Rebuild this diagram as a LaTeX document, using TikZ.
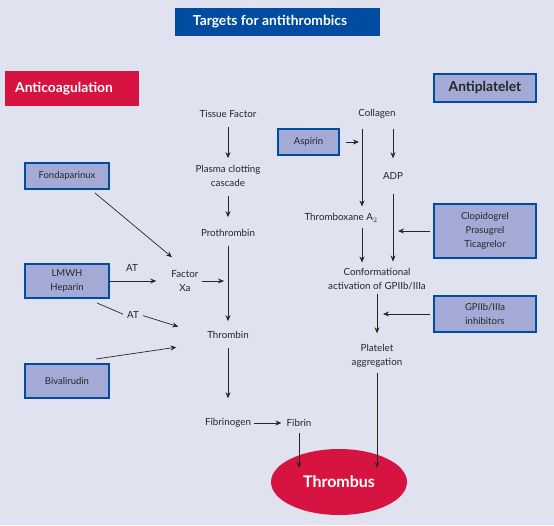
\documentclass[tikz,border=0pt]{standalone}
\usepackage{fontspec}
\setmainfont{Lato}
\usetikzlibrary{arrows.meta,positioning,shapes.geometric,calc}
\definecolor{pagebg}{RGB}{224,226,240}
\definecolor{titleblue}{RGB}{0,76,160}
\definecolor{clotred}{RGB}{215,20,65}
\definecolor{drugfill}{RGB}{164,170,214}

\begin{document}
\begin{tikzpicture}[x=1pt, y=1pt,
  lbl/.style={font=\fontsize{9.8}{14}\selectfont, align=center, inner sep=2pt, text=black!85},
  drug/.style={rectangle, draw=titleblue, line width=2pt, fill=drugfill, minimum width=#1,
               align=center, font=\fontsize{9.5}{14}\selectfont, text=black!85, inner sep=2pt},
  head/.style={rectangle, fill=#1, text=white, align=center, font=\fontsize{13.8}{16}\selectfont\bfseries},
  flow/.style={-{Stealth[length=6pt,width=5pt,inset=2pt]}, line width=0.7pt, black!85,
               shorten <=7pt, shorten >=5pt},
  plain/.style={line width=0.7pt, black!85}
]
\fill[pagebg] (0,0) rectangle (554,-525);
\useasboundingbox (0,0) rectangle (554,-525);

% Headings
\node[head=titleblue, minimum width=205pt, minimum height=28pt] (title) at (277.5,-22) {Targets for antithrombics\hspace*{15pt}};
\node[head=clotred, minimum width=134pt, minimum height=35pt] (anticoag) at (72,-88.5) {Anticoagulation\hspace*{16pt}};
\node[drug=102pt, minimum height=28pt, font=\fontsize{13.8}{16}\selectfont\bfseries] (antiplat) at (485,-88) {Antiplatelet};

% Coagulation cascade
\node[lbl] (tf)  at (228,-114) {Tissue Factor};
\node[lbl] (pcc) at (228,-176) {Plasma clotting\\cascade};
\node[lbl] (pro) at (228,-233) {Prothrombin};
\node[lbl] (fxa) at (185,-281) {Factor\\Xa};
\node[lbl] (thb) at (228,-335) {Thrombin};
\node[lbl] (fbg) at (228,-423) {Fibrinogen};
\node[lbl] (fib) at (299,-423) {Fibrin};

% Anticoagulants
\node[drug=84pt, minimum height=26pt] (fon) at (67,-176) {Fondaparinux};
\node[drug=84pt, minimum height=34pt] (lmw) at (67,-281) {LMWH\\Heparin};
\node[drug=84pt, minimum height=34pt] (biv) at (67,-381) {Bivalirudin};
\node[lbl] (at1) at (132,-268) {AT};
\node[lbl] (at2) at (133,-315) {AT};

% Platelet pathway
\node[lbl] (col)  at (377,-114) {Collagen};
\node[lbl] (adp)  at (393,-176) {ADP};
\node[lbl] (txa)  at (341,-218) {Thromboxane A$_2$};
\node[lbl] (conf) at (377,-279.5) {Conformational\\activation of GPIIb/IIIa};
\node[lbl] (plt)  at (377,-356) {Platelet\\aggregation};

% Antiplatelet drugs
\node[drug=61pt, minimum height=26pt] (asp) at (308.5,-142) {Aspirin};
\node[drug=102pt, minimum height=54pt] (clop) at (485,-231) {Clopidogrel\\Prasugrel\\Ticagrelor};
\node[drug=102pt, minimum height=36pt] (gp) at (485,-314) {GPIIb/IIIa\\inhibitors};

% Thrombus
\node[ellipse, fill=clotred, text=white, minimum width=136pt, minimum height=66pt,
      font=\fontsize{16}{18}\selectfont\bfseries] (thr) at (339,-482) {Thrombus};

% Cascade arrows
\draw[flow] (tf) -- (pcc);
\draw[flow, shorten >=10pt] (pcc) -- (pro);
\draw[flow, shorten >=8pt] (pro) -- (thb);
\draw[flow, shorten >=18pt] (thb) -- (fbg);
\draw[flow, shorten <=1pt, shorten >=3pt] (fbg) -- (fib);
\draw[flow, shorten <=4pt, shorten >=14pt] (fib) -- (fib |- thr.center);
\draw[flow, shorten <=1pt, shorten >=4pt] (fxa.east) -- (fxa.east -| pro);

% Anticoagulant arrows
\draw[flow, shorten <=0pt, shorten >=0pt] ([xshift=28pt,yshift=-3pt]fon.south) -- ([xshift=-13pt,yshift=11pt]fxa.north);
\draw[flow, shorten <=0pt, shorten >=13pt] (lmw.east) -- (fxa.west);
\draw[plain, shorten >=2pt] ([xshift=-13pt,yshift=-4pt]lmw.south east) -- (at2.west);
\draw[flow, shorten <=2pt, shorten >=28pt] (at2.east) -- (thb.west);
\draw[flow, shorten <=0pt, shorten >=29pt] ([xshift=29pt,yshift=4pt]biv.north) -- ([yshift=-8pt]thb.west);

% Platelet arrows
\coordinate (cl) at ([xshift=-15pt]col.south);
\draw[flow, shorten <=8pt, shorten >=5pt] (cl) -- (cl |- txa.north);
\draw[flow, shorten <=8pt, shorten >=12pt] (col.south -| adp) -- (adp);
\draw[flow, shorten <=3pt, shorten >=3pt] ([xshift=3pt]asp.east) -- (asp.east -| cl);
\draw[flow, shorten <=12pt, shorten >=5pt] (adp) -- (adp |- conf.north);
\draw[flow, shorten <=3pt, shorten >=4pt] (cl |- txa.south) -- (cl |- conf.north);
\draw[flow, shorten <=3pt, shorten >=5pt] (clop.west) -- (clop.west -| adp);
\draw[flow, shorten <=1pt, shorten >=9pt] (conf) -- (plt);
\draw[flow, shorten <=3pt, shorten >=6pt] (gp.west) -- (gp.west -| conf);
\draw[flow, shorten <=3pt, shorten >=14pt] (plt) -- (plt |- thr.center);
\end{tikzpicture}
\end{document}
